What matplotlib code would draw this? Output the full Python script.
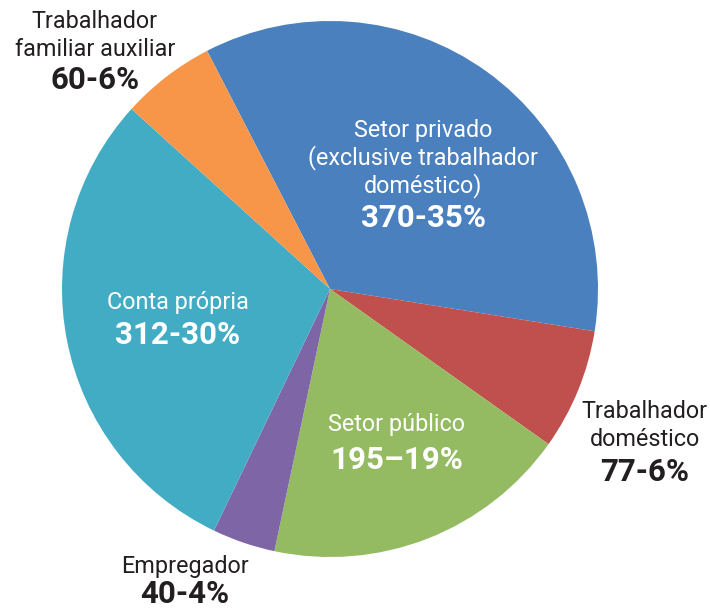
import matplotlib.pyplot as plt

INK = "#231f20"
WHITE = "#ffffff"

categories = [
    "Setor privado\n(exclusive trabalhador\ndoméstico)",
    "Trabalhador\ndoméstico",
    "Setor público",
    "Empregador",
    "Conta própria",
    "Trabalhador\nfamiliar auxiliar",
]
values = [370, 77, 195, 40, 312, 60]
percents = [35, 6, 19, 4, 30, 6]
separators = ["-", "-", "–", "-", "-", "-"]
colors = ["#4b80be", "#c0504d", "#94bb62", "#7e65a6", "#43acc5", "#f79648"]

# label anchor: pixel x, pixel y of first line, gap to bold line, text colour
label_pos = [
    (423, 130, 32, WHITE),
    (645, 412, 32, INK),
    (397, 425, 35, WHITE),
    (185, 567, 27, INK),
    (178, 302, 33, WHITE),
    (95, 22, 30, INK),
]

W, H = 710, 611
fig = plt.figure(figsize=(W / 100, H / 100), dpi=100)
ax = fig.add_axes([0, 0, 1, 1])

cx, cy, r = 330, H - 289, 268
ax.pie(
    values,
    colors=colors,
    startangle=117.3,
    counterclock=False,
    radius=r,
    center=(cx, cy),
    wedgeprops=dict(linewidth=0),
    frame=True,
)
ax.set_xlim(0, W)
ax.set_ylim(0, H)
ax.set_aspect("equal")
ax.axis("off")

family = ["Roboto", "DejaVu Sans"]
for cat, v, p, sep, (x, y, gap, col) in zip(categories, values, percents, separators, label_pos):
    lines = cat.split("\n")
    for i, line in enumerate(lines):
        ax.text(x, H - (y + 28 * i), line, ha="center", va="center",
                fontsize=16.8, color=col, family=family)
    yb = y + 28 * (len(lines) - 1) + gap
    ax.text(x, H - yb, f"{v}{sep}{p}%", ha="center", va="center",
            fontsize=22.5, fontweight="bold", color=col, family=family)

fig.savefig("out.png", dpi=100)
